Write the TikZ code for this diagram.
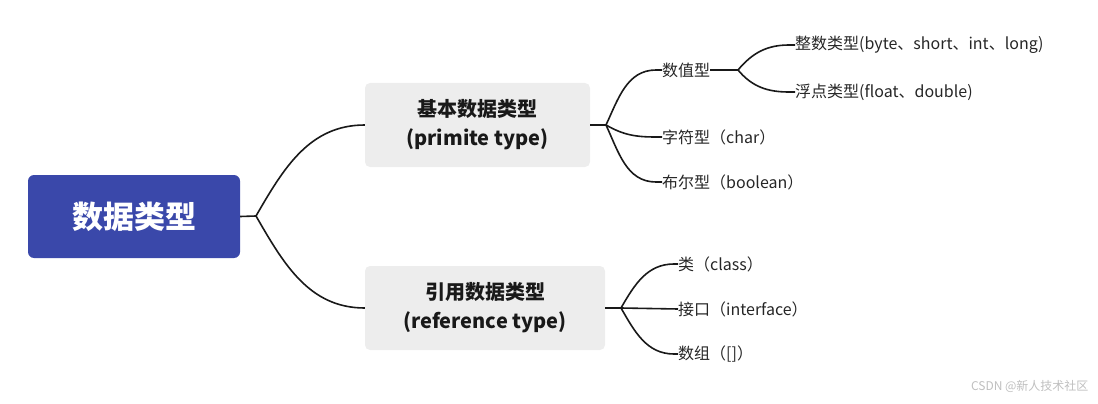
\documentclass[tikz,border=0pt]{standalone}
\usepackage{fontspec}
\setmainfont{Noto Sans CJK SC}
\begin{document}
\begin{tikzpicture}[x=1pt,y=-1pt,
  conn/.style={line width=1.6pt,black!90},
  leaf/.style={anchor=west,inner sep=0pt,font=\fontsize{16}{18}\selectfont,text=black!85},
  gbox/.style={fill=black!7,rounded corners=5pt,minimum width=225pt,minimum height=84pt,align=center,font=\bfseries\fontsize{20}{29}\selectfont,text=black!90}]
\useasboundingbox (0,0) rectangle (1098,404);
\node[fill={rgb,255:red,58;green,72;blue,170},rounded corners=6pt,minimum width=212pt,minimum height=83pt,text=white,font=\bfseries\fontsize{31}{34}\selectfont] (root) at (134,216.5) {数据类型};
\node[gbox] (b1) at (477.5,125) {基本数据类型\\(primite type)};
\node[gbox,minimum width=240pt] (b2) at (485,308) {引用数据类型\\(reference type)};
\coordinate (j0) at (256,216);
\coordinate (j1) at (606,125);
\coordinate (j2) at (621,308);
\coordinate (j3) at (738,70);
\node[leaf] (n1) at (662,70) {数值型};
\node[leaf] (n2) at (662,137) {字符型（char）};
\node[leaf] (n3) at (662,182) {布尔型（boolean）};
\node[leaf] (n11) at (795,45) {整数类型(byte、short、int、long)};
\node[leaf] (n12) at (795,92) {浮点类型(float、double)};
\node[leaf] (m1) at (678,264) {类（class）};
\node[leaf] (m2) at (678,309) {接口（interface）};
\node[leaf] (m3) at (678,354) {数组（[]）};
\node[anchor=east,text=black!25,font=\fontsize{12}{14}\selectfont] (wm) at (1092,386) {CSDN @新人技术社区};
\draw[conn] (root.east) -- (j0);
\draw[conn] (j0) to[out=60,in=180] (b1.west);
\draw[conn] (j0) to[out=-60,in=180] (b2.west);
\draw[conn] (b1.east) -- (j1);
\draw[conn] (j1) to[out=65,in=180] ([xshift=-6pt]n1.west) -- (n1.west);
\draw[conn] (j1) to[out=-30,in=180] ([xshift=-6pt]n2.west) -- (n2.west);
\draw[conn] (j1) to[out=-65,in=180] ([xshift=-6pt]n3.west) -- (n3.west);
\draw[conn] (n1.east) -- (j3);
\draw[conn] (j3) to[out=50,in=180] ([xshift=-6pt]n11.west) -- (n11.west);
\draw[conn] (j3) to[out=-50,in=180] ([xshift=-6pt]n12.west) -- (n12.west);
\draw[conn] (b2.east) -- (j2);
\draw[conn] (j2) to[out=60,in=180] ([xshift=-4pt]m1.west) -- (m1.west);
\draw[conn] (j2) -- (m2.west);
\draw[conn] (j2) to[out=-60,in=180] ([xshift=-4pt]m3.west) -- (m3.west);
\end{tikzpicture}
\end{document}
